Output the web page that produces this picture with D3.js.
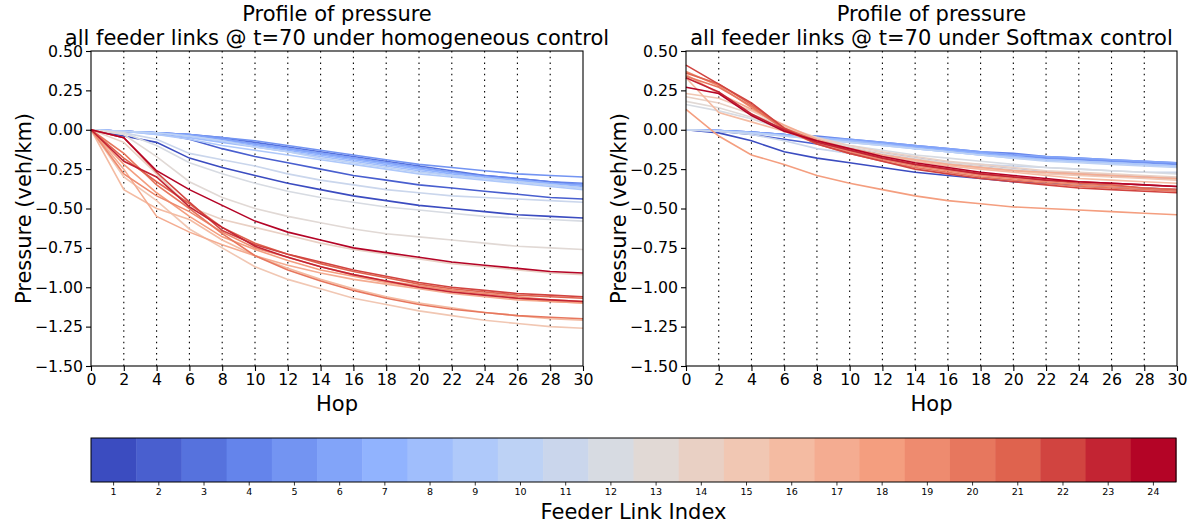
<!DOCTYPE html>
<html><head><meta charset="utf-8">
<script src="https://cdn.jsdelivr.net/npm/d3@7"></script>
<style>
body{margin:0;background:#fff;}
text{font-family:"DejaVu Sans",sans-serif;fill:#000;}
</style></head>
<body><svg id="c" width="1192" height="527"></svg>
<script>
// ---------- data ----------
const hops = [0,2,4,6,8,10,12,14,16,18,20,22,24,26,28,30];
const linkIndex = d3.range(1,25);
const xTicks = [0,2,4,6,8,10,12,14,16,18,20,22,24,26,28,30];
const yTicks = [0.5,0.25,0,-0.25,-0.5,-0.75,-1.0,-1.25,-1.5];
const titles = ["all feeder links @ t=70 under homogeneous control","all feeder links @ t=70 under Softmax control"];

// pressure per feeder link (index 1..24) at each hop, homogeneous control
const homogeneous = [
 [0,-0.04,-0.08,-0.18,-0.24,-0.29,-0.34,-0.38,-0.42,-0.45,-0.48,-0.50,-0.52,-0.54,-0.55,-0.56],
 [0,-0.01,-0.02,-0.06,-0.12,-0.17,-0.21,-0.25,-0.29,-0.32,-0.35,-0.37,-0.39,-0.41,-0.43,-0.44],
 [0,-0.01,-0.02,-0.03,-0.05,-0.08,-0.11,-0.14,-0.17,-0.20,-0.23,-0.26,-0.29,-0.31,-0.33,-0.35],
 [0,-0.01,-0.02,-0.03,-0.06,-0.09,-0.12,-0.15,-0.18,-0.21,-0.24,-0.27,-0.29,-0.31,-0.33,-0.34],
 [0,-0.01,-0.02,-0.03,-0.05,-0.07,-0.10,-0.13,-0.16,-0.19,-0.22,-0.24,-0.26,-0.28,-0.29,-0.30],
 [0,-0.01,-0.02,-0.03,-0.06,-0.09,-0.12,-0.15,-0.18,-0.21,-0.24,-0.27,-0.30,-0.32,-0.34,-0.35],
 [0,-0.01,-0.02,-0.04,-0.07,-0.10,-0.13,-0.16,-0.19,-0.22,-0.25,-0.28,-0.30,-0.32,-0.34,-0.36],
 [0,-0.01,-0.03,-0.05,-0.08,-0.11,-0.14,-0.17,-0.20,-0.23,-0.26,-0.29,-0.31,-0.33,-0.35,-0.37],
 [0,-0.01,-0.03,-0.06,-0.10,-0.13,-0.16,-0.19,-0.22,-0.25,-0.28,-0.30,-0.32,-0.34,-0.36,-0.38],
 [0,-0.01,-0.02,-0.04,-0.07,-0.11,-0.14,-0.18,-0.21,-0.24,-0.27,-0.29,-0.31,-0.33,-0.35,-0.37],
 [0,-0.02,-0.06,-0.15,-0.19,-0.23,-0.28,-0.32,-0.35,-0.38,-0.40,-0.42,-0.43,-0.44,-0.45,-0.46],
 [0,-0.02,-0.10,-0.21,-0.28,-0.34,-0.39,-0.43,-0.46,-0.49,-0.51,-0.53,-0.55,-0.56,-0.57,-0.58],
 [0,-0.03,-0.17,-0.33,-0.43,-0.50,-0.55,-0.59,-0.63,-0.66,-0.68,-0.70,-0.72,-0.74,-0.75,-0.76],
 [0,-0.08,-0.28,-0.49,-0.57,-0.62,-0.67,-0.72,-0.76,-0.79,-0.82,-0.85,-0.87,-0.89,-0.91,-0.92],
 [0,-0.30,-0.45,-0.63,-0.75,-0.87,-0.95,-1.01,-1.07,-1.11,-1.15,-1.18,-1.21,-1.23,-1.25,-1.26],
 [0,-0.38,-0.50,-0.57,-0.70,-0.80,-0.88,-0.95,-1.01,-1.06,-1.10,-1.13,-1.16,-1.18,-1.20,-1.21],
 [0,-0.25,-0.55,-0.65,-0.73,-0.80,-0.86,-0.91,-0.95,-0.98,-1.01,-1.04,-1.06,-1.08,-1.09,-1.10],
 [0,-0.22,-0.40,-0.55,-0.68,-0.76,-0.83,-0.89,-0.93,-0.97,-1.00,-1.03,-1.05,-1.07,-1.09,-1.10],
 [0,-0.28,-0.42,-0.52,-0.65,-0.75,-0.81,-0.87,-0.92,-0.96,-0.99,-1.02,-1.04,-1.06,-1.08,-1.09],
 [0,-0.15,-0.35,-0.50,-0.66,-0.80,-0.89,-0.96,-1.02,-1.07,-1.11,-1.14,-1.16,-1.18,-1.19,-1.20],
 [0,-0.18,-0.33,-0.47,-0.62,-0.72,-0.79,-0.85,-0.90,-0.94,-0.98,-1.01,-1.03,-1.05,-1.06,-1.07],
 [0,-0.05,-0.27,-0.46,-0.64,-0.73,-0.79,-0.84,-0.89,-0.93,-0.97,-1.00,-1.02,-1.04,-1.05,-1.06],
 [0,-0.20,-0.30,-0.49,-0.62,-0.74,-0.81,-0.87,-0.92,-0.96,-1.00,-1.03,-1.05,-1.07,-1.08,-1.09],
 [0,-0.05,-0.26,-0.38,-0.48,-0.58,-0.65,-0.70,-0.75,-0.78,-0.81,-0.84,-0.86,-0.88,-0.90,-0.91]
];

// pressure per feeder link (index 1..24) at each hop, Softmax control
const softmax = [
 [0,-0.02,-0.07,-0.14,-0.18,-0.21,-0.24,-0.27,-0.29,-0.31,-0.33,-0.34,-0.35,-0.36,-0.37,-0.38],
 [0,-0.01,-0.03,-0.06,-0.09,-0.12,-0.15,-0.18,-0.21,-0.23,-0.25,-0.27,-0.28,-0.29,-0.30,-0.31],
 [0,-0.005,-0.015,-0.03,-0.05,-0.07,-0.09,-0.11,-0.13,-0.15,-0.16,-0.18,-0.19,-0.20,-0.21,-0.22],
 [0,-0.005,-0.015,-0.03,-0.04,-0.06,-0.08,-0.10,-0.12,-0.14,-0.15,-0.17,-0.18,-0.19,-0.20,-0.21],
 [0,-0.005,-0.02,-0.03,-0.05,-0.07,-0.09,-0.11,-0.13,-0.15,-0.17,-0.18,-0.19,-0.20,-0.21,-0.22],
 [0,-0.005,-0.015,-0.03,-0.05,-0.06,-0.08,-0.10,-0.12,-0.14,-0.16,-0.17,-0.18,-0.19,-0.20,-0.21],
 [0,-0.005,-0.02,-0.035,-0.05,-0.07,-0.09,-0.11,-0.13,-0.15,-0.17,-0.19,-0.20,-0.21,-0.22,-0.23],
 [0,-0.005,-0.02,-0.035,-0.05,-0.07,-0.09,-0.12,-0.14,-0.16,-0.17,-0.19,-0.20,-0.21,-0.22,-0.23],
 [0,-0.01,-0.02,-0.04,-0.06,-0.08,-0.10,-0.12,-0.14,-0.16,-0.18,-0.19,-0.20,-0.21,-0.22,-0.23],
 [0,-0.01,-0.02,-0.04,-0.06,-0.08,-0.10,-0.12,-0.14,-0.16,-0.18,-0.20,-0.21,-0.22,-0.23,-0.24],
 [0,-0.01,-0.03,-0.07,-0.12,-0.15,-0.17,-0.19,-0.21,-0.22,-0.23,-0.24,-0.25,-0.26,-0.27,-0.27],
 [0.16,0.12,0.07,0.0,-0.06,-0.10,-0.13,-0.16,-0.18,-0.20,-0.22,-0.24,-0.25,-0.26,-0.27,-0.28],
 [0.18,0.14,0.08,0.01,-0.06,-0.11,-0.15,-0.18,-0.21,-0.23,-0.25,-0.27,-0.28,-0.29,-0.30,-0.31],
 [0.21,0.17,0.10,0.02,-0.05,-0.10,-0.14,-0.17,-0.20,-0.22,-0.24,-0.26,-0.27,-0.28,-0.29,-0.30],
 [0.23,0.20,0.12,0.02,-0.07,-0.12,-0.16,-0.19,-0.22,-0.24,-0.26,-0.28,-0.29,-0.30,-0.31,-0.32],
 [0.33,0.11,0.05,-0.01,-0.08,-0.13,-0.17,-0.20,-0.23,-0.25,-0.27,-0.29,-0.31,-0.32,-0.33,-0.34],
 [0.35,0.23,0.13,0.03,-0.06,-0.12,-0.16,-0.19,-0.22,-0.24,-0.26,-0.27,-0.28,-0.29,-0.30,-0.31],
 [0.13,-0.04,-0.16,-0.22,-0.29,-0.34,-0.38,-0.42,-0.45,-0.47,-0.49,-0.50,-0.51,-0.52,-0.53,-0.54],
 [0.37,0.28,0.14,0.01,-0.08,-0.14,-0.19,-0.23,-0.26,-0.29,-0.31,-0.33,-0.35,-0.36,-0.37,-0.38],
 [0.34,0.27,0.15,0.00,-0.09,-0.15,-0.20,-0.24,-0.27,-0.30,-0.32,-0.34,-0.36,-0.37,-0.38,-0.39],
 [0.36,0.29,0.16,0.01,-0.07,-0.13,-0.18,-0.22,-0.25,-0.28,-0.30,-0.32,-0.34,-0.35,-0.37,-0.38],
 [0.41,0.29,0.17,0.01,-0.09,-0.15,-0.20,-0.25,-0.28,-0.31,-0.33,-0.35,-0.37,-0.38,-0.39,-0.40],
 [0.33,0.24,0.10,0.00,-0.08,-0.13,-0.18,-0.22,-0.25,-0.28,-0.30,-0.32,-0.33,-0.34,-0.35,-0.36],
 [0.27,0.23,0.09,-0.01,-0.07,-0.12,-0.17,-0.21,-0.24,-0.27,-0.29,-0.31,-0.33,-0.34,-0.35,-0.36]
];

// coolwarm colormap anchors
const cmapStops = [0,0.125,0.25,0.375,0.5,0.625,0.75,0.875,1];
const cmapColors = ["#3b4cc0","#6282ea","#8db0fe","#b8d0f9","#dddddd","#f4c4ad","#f49a7b","#de604c","#b40426"];

// ---------- drawing ----------
const svg = d3.select("#c");
const cmap = d3.scaleLinear().domain(cmapStops).range(cmapColors).interpolate(d3.interpolateRgb);
const color = i => cmap((i-1)/23);

const y = d3.scaleLinear().domain([-1.5,0.5]).range([366,51]);
const panels = [
  {x: d3.scaleLinear().domain([0,30]).range([91,583]), data: homogeneous, title: titles[0]},
  {x: d3.scaleLinear().domain([0,30]).range([686,1177]), data: softmax, title: titles[1]}
];

panels.forEach(p => {
  const g = svg.append("g");
  const [x0,x1] = p.x.range();
  // vertical dotted lines
  g.selectAll("line.v").data(xTicks.filter(t=>t>0 && t<30)).join("line")
    .attr("x1",d=>p.x(d)).attr("x2",d=>p.x(d)).attr("y1",y(0.5)).attr("y2",y(-1.5))
    .attr("stroke","#000").attr("stroke-width",1.1).attr("stroke-dasharray","1.5,4.2");
  // lines
  const line = d3.line().x((d,i)=>p.x(hops[i])).y(d=>y(d));
  g.selectAll("path.l").data(p.data).join("path")
    .attr("d",line).attr("fill","none")
    .attr("stroke",(d,i)=>color(i+1)).attr("stroke-width",1.6);
  // frame
  g.append("rect").attr("x",x0).attr("y",y(0.5)).attr("width",x1-x0).attr("height",y(-1.5)-y(0.5))
    .attr("fill","none").attr("stroke","#000").attr("stroke-width",1.1);
  // axes
  const xa = g.append("g").attr("transform",`translate(0,${y(-1.5)})`)
    .call(d3.axisBottom(p.x).tickValues(xTicks).tickSize(5).tickPadding(3).tickFormat(d3.format("d")));
  const ya = g.append("g").attr("transform",`translate(${x0},0)`)
    .call(d3.axisLeft(y).tickValues(yTicks).tickSize(5).tickPadding(3).tickFormat(d3.format(".2f")));
  [xa,ya].forEach(a=>{
    a.select(".domain").remove();
    a.selectAll("text").style("font-size","15.75px").style("font-family","DejaVu Sans");
    a.selectAll("line").attr("stroke-width",1.1);
  });
  const cx = (x0+x1)/2;
  g.append("text").attr("x",cx).attr("y",21).attr("text-anchor","middle").style("font-size","21px").text("Profile of pressure");
  g.append("text").attr("x",cx).attr("y",44.5).attr("text-anchor","middle").style("font-size","21px").text(p.title);
  g.append("text").attr("x",cx).attr("y",411).attr("text-anchor","middle").style("font-size","21px").text("Hop");
  g.append("text").attr("transform",`translate(${x0-60},${(y(0.5)+y(-1.5))/2}) rotate(-90)`)
    .attr("text-anchor","middle").style("font-size","21px").text("Pressure (veh/km)");
});

// colorbar
const cb = d3.scaleBand().domain(linkIndex).range([91,1176]).padding(0);
const cbg = svg.append("g");
cbg.selectAll("rect.c").data(linkIndex).join("rect")
  .attr("x",d=>cb(d)).attr("y",438).attr("width",cb.bandwidth()+0.5).attr("height",44)
  .attr("fill",d=>color(d));
cbg.append("rect").attr("x",91).attr("y",438).attr("width",1176-91).attr("height",44)
  .attr("fill","none").attr("stroke","#000").attr("stroke-width",1);
const cba = cbg.append("g").attr("transform","translate(0,482)")
  .call(d3.axisBottom(cb).tickSize(3.5).tickPadding(3));
cba.select(".domain").remove();
cba.selectAll("text").style("font-size","9.5px").style("font-family","DejaVu Sans");
cba.selectAll("line").attr("stroke-width",0.8);
cbg.append("text").attr("x",(91+1176)/2).attr("y",519).attr("text-anchor","middle").style("font-size","21px").text("Feeder Link Index");
</script></body></html>
